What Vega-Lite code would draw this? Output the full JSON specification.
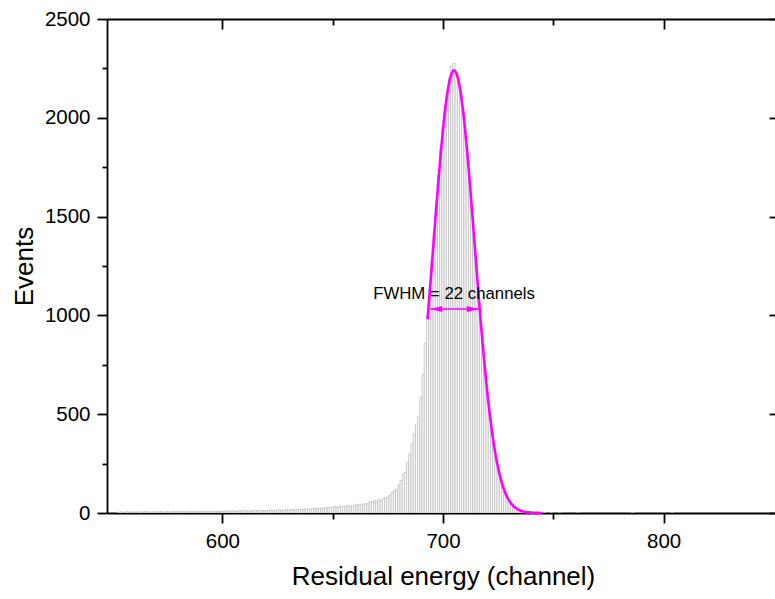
{
  "$schema": "https://vega.github.io/schema/vega-lite/v6.json",
  "width": 672,
  "height": 494,
  "autosize": {"type": "none"},
  "padding": {"left": 107, "top": 19, "right": 0, "bottom": 86},
  "background": "white",
  "config": {
    "view": {"stroke": null},
    "axis": {
      "domainColor": "black", "domainWidth": 1.8, "tickColor": "black", "tickWidth": 1.8,
      "labelFont": "Liberation Sans", "labelFontSize": 20.5, "labelColor": "black",
      "titleFont": "Liberation Sans", "titleFontSize": 26, "titleFontWeight": "normal", "titleColor": "black",
      "grid": false, "labelOverlap": false, "labelFlush": false, "format": "d"
    }
  },
  "datasets": {
    "hist": [
      {"ch":553,"n":4},{"ch":554,"n":6},{"ch":555,"n":3},{"ch":556,"n":5},{"ch":557,"n":7},{"ch":558,"n":4},{"ch":559,"n":5},{"ch":560,"n":6},{"ch":561,"n":3},{"ch":562,"n":7},{"ch":563,"n":5},{"ch":564,"n":4},{"ch":565,"n":8},{"ch":566,"n":5},{"ch":567,"n":6},{"ch":568,"n":4},{"ch":569,"n":7},{"ch":570,"n":5},{"ch":571,"n":6},{"ch":572,"n":8},{"ch":573,"n":4},{"ch":574,"n":6},{"ch":575,"n":7},{"ch":576,"n":5},{"ch":577,"n":6},{"ch":578,"n":9},{"ch":579,"n":5},{"ch":580,"n":7},{"ch":581,"n":6},{"ch":582,"n":8},{"ch":583,"n":5},{"ch":584,"n":7},{"ch":585,"n":6},{"ch":586,"n":9},{"ch":587,"n":6},{"ch":588,"n":7},{"ch":589,"n":8},{"ch":590,"n":6},{"ch":591,"n":9},{"ch":592,"n":7},{"ch":593,"n":8},{"ch":594,"n":6},{"ch":595,"n":10},{"ch":596,"n":7},{"ch":597,"n":8},{"ch":598,"n":9},{"ch":599,"n":7},{"ch":600,"n":10},
      {"ch":601,"n":8},{"ch":602,"n":11},{"ch":603,"n":9},{"ch":604,"n":8},{"ch":605,"n":12},{"ch":606,"n":9},{"ch":607,"n":10},{"ch":608,"n":11},{"ch":609,"n":9},{"ch":610,"n":13},{"ch":611,"n":10},{"ch":612,"n":11},{"ch":613,"n":9},{"ch":614,"n":12},{"ch":615,"n":13},{"ch":616,"n":10},{"ch":617,"n":12},{"ch":618,"n":14},{"ch":619,"n":11},{"ch":620,"n":13},{"ch":621,"n":12},{"ch":622,"n":15},{"ch":623,"n":11},{"ch":624,"n":14},{"ch":625,"n":13},{"ch":626,"n":16},{"ch":627,"n":12},{"ch":628,"n":15},{"ch":629,"n":17},{"ch":630,"n":14},
      {"ch":631,"n":16},{"ch":632,"n":18},{"ch":633,"n":15},{"ch":634,"n":17},{"ch":635,"n":19},{"ch":636,"n":16},{"ch":637,"n":20},{"ch":638,"n":18},{"ch":639,"n":21},{"ch":640,"n":19},{"ch":641,"n":22},{"ch":642,"n":20},{"ch":643,"n":24},{"ch":644,"n":21},{"ch":645,"n":25},{"ch":646,"n":23},
      {"ch":647,"n":27},{"ch":648,"n":30},{"ch":649,"n":26},{"ch":650,"n":29},{"ch":651,"n":33},{"ch":652,"n":28},{"ch":653,"n":31},{"ch":654,"n":35},{"ch":655,"n":30},{"ch":656,"n":34},
      {"ch":657,"n":38},{"ch":658,"n":33},{"ch":659,"n":40},{"ch":660,"n":36},{"ch":661,"n":44},{"ch":662,"n":39},{"ch":663,"n":45},{"ch":664,"n":42},{"ch":665,"n":48},{"ch":666,"n":46},
      {"ch":667,"n":58},{"ch":668,"n":52},{"ch":669,"n":62},{"ch":670,"n":56},{"ch":671,"n":68},
      {"ch":672,"n":60},{"ch":673,"n":72},{"ch":674,"n":78},{"ch":675,"n":82},{"ch":676,"n":90},{"ch":677,"n":105},{"ch":678,"n":112},{"ch":679,"n":120},{"ch":680,"n":140},{"ch":681,"n":165},{"ch":682,"n":195},{"ch":683,"n":205},{"ch":684,"n":255},{"ch":685,"n":300},{"ch":686,"n":350},{"ch":687,"n":400},{"ch":688,"n":450},{"ch":689,"n":490},{"ch":690,"n":585},{"ch":691,"n":700},
      {"ch":692,"n":860},{"ch":693,"n":1000},{"ch":694,"n":1130},{"ch":695,"n":1280},{"ch":696,"n":1420},{"ch":697,"n":1560},{"ch":698,"n":1710},{"ch":699,"n":1840},{"ch":700,"n":1950},{"ch":701,"n":2060},{"ch":702,"n":2140},{"ch":703,"n":2200},{"ch":704,"n":2262},{"ch":705,"n":2275},{"ch":706,"n":2230},{"ch":707,"n":2190},{"ch":708,"n":2120},{"ch":709,"n":2040},{"ch":710,"n":1935},{"ch":711,"n":1815},{"ch":712,"n":1680},{"ch":713,"n":1545},{"ch":714,"n":1400},{"ch":715,"n":1255},{"ch":716,"n":1110},{"ch":717,"n":975},{"ch":718,"n":845},{"ch":719,"n":725},{"ch":720,"n":612},{"ch":721,"n":512},{"ch":722,"n":425},{"ch":723,"n":348},{"ch":724,"n":280},{"ch":725,"n":224},{"ch":726,"n":177},{"ch":727,"n":138},{"ch":728,"n":106},{"ch":729,"n":80},{"ch":730,"n":60},{"ch":731,"n":45},{"ch":732,"n":33},{"ch":733,"n":24},{"ch":734,"n":17},{"ch":735,"n":12},{"ch":736,"n":9},{"ch":737,"n":6},{"ch":738,"n":4},{"ch":739,"n":3},{"ch":740,"n":2},{"ch":741,"n":2},{"ch":742,"n":1},{"ch":743,"n":1},{"ch":744,"n":1},
      {"ch":746,"n":1},{"ch":749,"n":1},{"ch":753,"n":1},{"ch":761,"n":1},{"ch":786,"n":2},{"ch":804,"n":1}
    ],
    "fit": [
      {"ch":693,"n":981},{"ch":694,"n":1120},{"ch":695,"n":1263},{"ch":696,"n":1408},{"ch":697,"n":1552},{"ch":698,"n":1691},{"ch":699,"n":1823},{"ch":700,"n":1941},{"ch":701,"n":2044},{"ch":702,"n":2127},{"ch":703,"n":2189},{"ch":704,"n":2227},{"ch":705,"n":2240},{"ch":706,"n":2227},{"ch":707,"n":2189},{"ch":708,"n":2127},{"ch":709,"n":2044},{"ch":710,"n":1941},{"ch":711,"n":1823},{"ch":712,"n":1691},{"ch":713,"n":1552},{"ch":714,"n":1408},{"ch":715,"n":1263},{"ch":716,"n":1120},{"ch":717,"n":981},{"ch":718,"n":851},{"ch":719,"n":729},{"ch":720,"n":617},{"ch":721,"n":517},{"ch":722,"n":428},{"ch":723,"n":350},{"ch":724,"n":283},{"ch":725,"n":226},{"ch":726,"n":179},{"ch":727,"n":140},{"ch":728,"n":108},{"ch":729,"n":82},{"ch":730,"n":62},{"ch":731,"n":46.5},{"ch":732,"n":34},{"ch":733,"n":25},{"ch":734,"n":18},{"ch":735,"n":12.9},{"ch":736,"n":9.1},{"ch":737,"n":6.3},{"ch":738,"n":4.4},{"ch":739,"n":3},{"ch":740,"n":2},{"ch":741,"n":1.3},{"ch":742,"n":0.8},{"ch":743,"n":0.5},{"ch":744,"n":0.3},{"ch":745,"n":0.2}
    ]
  },
  "resolve": {"axis": {"x": "independent", "y": "independent"}},
  "layer": [
    {
      "data": {"name": "hist"},
      "mark": {"type": "bar", "width": 2.24, "fill": "white", "stroke": "#bdbdbd", "strokeWidth": 0.8, "clip": true},
      "encoding": {
        "x": {"field": "ch", "type": "quantitative", "scale": {"domain": [550, 850], "nice": false, "zero": false},
          "axis": {"orient": "bottom", "title": "Residual energy (channel)", "values": [600, 650, 700, 750, 800],
            "tickSize": {"condition": {"test": "datum.value % 100 === 0", "value": 10}, "value": 6},
            "labelExpr": "datum.value % 100 === 0 ? datum.label : ''", "labelPadding": 8, "titlePadding": 12}},
        "y": {"field": "n", "type": "quantitative", "scale": {"domain": [0, 2500], "nice": false},
          "axis": {"orient": "left", "title": "Events", "values": [0, 250, 500, 750, 1000, 1250, 1500, 1750, 2000, 2250, 2500],
            "tickSize": {"condition": {"test": "datum.value % 500 === 0", "value": 10}, "value": 5},
            "labelExpr": "datum.value % 500 === 0 ? datum.label : ''", "labelPadding": 7, "titlePadding": 7}}
      }
    },
    {
      "data": {"name": "fit"},
      "mark": {"type": "line", "color": "#ff00ff", "strokeWidth": 2.6, "interpolate": "monotone"},
      "encoding": {
        "x": {"field": "ch", "type": "quantitative",
          "axis": {"orient": "top", "title": null, "labels": false, "values": [600, 650, 700, 750, 800],
            "tickSize": {"condition": {"test": "datum.value % 100 === 0", "value": -10}, "value": -6}}},
        "y": {"field": "n", "type": "quantitative",
          "axis": {"orient": "right", "title": null, "labels": false, "values": [0, 250, 500, 750, 1000, 1250, 1500, 1750, 2000, 2250, 2500],
            "tickSize": {"condition": {"test": "datum.value % 500 === 0", "value": -10}, "value": -4}}}
      }
    },
    {
      "data": {"values": [{"x1": 694.2, "x2": 716.2, "y": 1033}]},
      "mark": {"type": "rule", "color": "#ff00ff", "strokeWidth": 1.5},
      "encoding": {
        "x": {"field": "x1", "type": "quantitative", "axis": null},
        "x2": {"field": "x2"},
        "y": {"field": "y", "type": "quantitative", "axis": null}
      }
    },
    {
      "data": {"values": [{"x": 694.2, "y": 1033, "side": "left"}, {"x": 716.2, "y": 1033, "side": "right"}]},
      "mark": {"type": "point", "filled": true, "fill": "#ff00ff", "strokeWidth": 0, "opacity": 1, "size": 144},
      "encoding": {
        "x": {"field": "x", "type": "quantitative", "axis": null},
        "y": {"field": "y", "type": "quantitative", "axis": null},
        "shape": {"field": "side", "type": "nominal", "legend": null,
          "scale": {"domain": ["left", "right"], "range": ["M0,0L2,-0.5L2,0.5Z", "M0,0L-2,-0.5L-2,0.5Z"]}}
      }
    },
    {
      "data": {"values": [{"x": 705, "y": 1084, "label": "FWHM = 22 channels"}]},
      "mark": {"type": "text", "font": "Liberation Sans", "fontSize": 16.8, "color": "black", "align": "center", "baseline": "alphabetic"},
      "encoding": {
        "x": {"field": "x", "type": "quantitative", "axis": null},
        "y": {"field": "y", "type": "quantitative", "axis": null},
        "text": {"field": "label"}
      }
    }
  ]
}
